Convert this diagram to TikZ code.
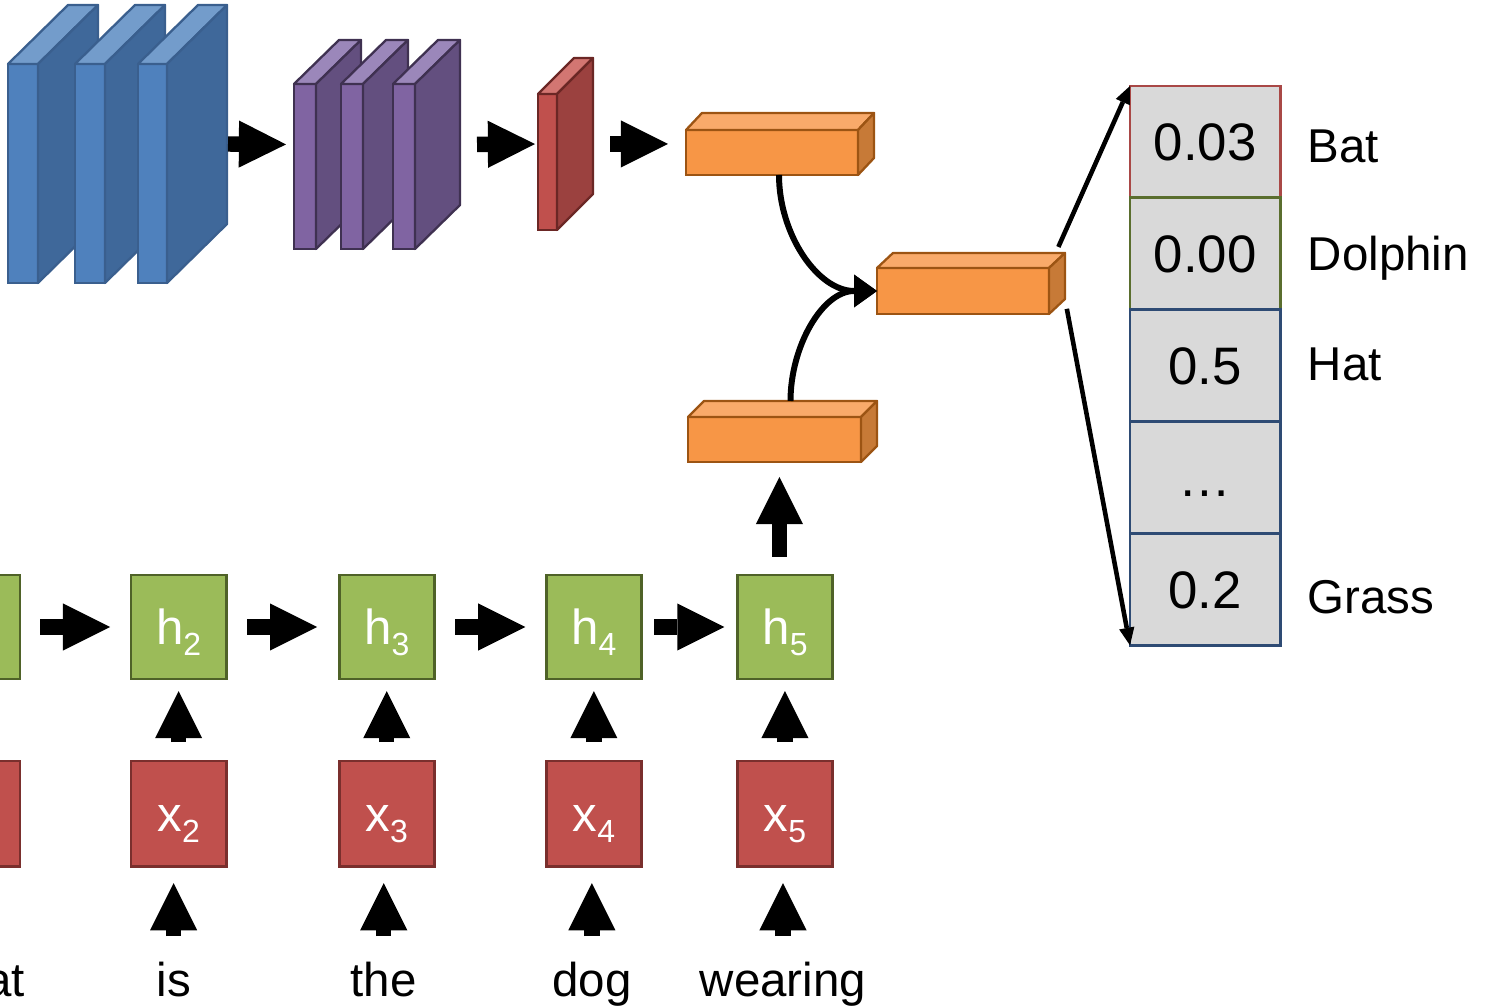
\documentclass[tikz,border=0pt]{standalone}
\usepackage{fontspec}
\setmainfont{Liberation Sans}
\usetikzlibrary{arrows.meta, positioning}

\definecolor{bluFront}{HTML}{4F81BD}
\definecolor{bluSide}{HTML}{3F689A}
\definecolor{bluTop}{HTML}{739CCB}
\definecolor{bluLine}{HTML}{3A5F8E}
\definecolor{purFront}{HTML}{8064A2}
\definecolor{purSide}{HTML}{634F7F}
\definecolor{purTop}{HTML}{9B87BA}
\definecolor{purLine}{HTML}{3F3151}
\definecolor{rddFront}{HTML}{C0504D}
\definecolor{rddSide}{HTML}{9B413F}
\definecolor{rddTop}{HTML}{D37672}
\definecolor{rddLine}{HTML}{6B2725}
\definecolor{orgFront}{HTML}{F79646}
\definecolor{orgSide}{HTML}{C77A37}
\definecolor{orgTop}{HTML}{F9AA6A}
\definecolor{orgLine}{HTML}{9C5413}
\definecolor{hFill}{HTML}{9BBB59}
\definecolor{hLine}{HTML}{4F6228}
\definecolor{xFill}{HTML}{C0504D}
\definecolor{xLine}{HTML}{7A2F2D}
\definecolor{cellgray}{HTML}{D9D9D9}
\definecolor{batLine}{HTML}{A94846}
\definecolor{dolLine}{HTML}{5A6E2E}
\definecolor{restLine}{HTML}{2E4B74}

% subscript set the way the slide tool does it: smaller and dropped
\newcommand{\lowidx}[1]{\raisebox{-3.1pt}{\fontsize{9.1}{10}\selectfont #1}}

% a slab is its front face (a node) plus a top and a side face;
% #1 name, #2/#3 top left of the front, #4 width, #5 height, #6/#7 depth, #8 colour set
\newcommand{\slab}[8]{%
  \node[slabfront=#8, minimum width=#4*0.01cm, minimum height=#5*0.01cm,
        anchor=north west] (#1) at (#2,#3) {};
  \draw[slabedge=#8, fill=#8Top] (#1.north west) -- ++(#6,#7) -- ++(#4,0)
        -- (#1.north east) -- cycle;
  \draw[slabedge=#8, fill=#8Side] (#1.north east) -- ++(#6,#7) -- ++(0,#5)
        -- (#1.south east) -- cycle;
  \coordinate (#1-w) at ([shift={(0,#7/2)}]#1.west);
  \coordinate (#1-e) at ([shift={(#6,#7/2)}]#1.east);
  \coordinate (#1-t) at ([shift={(#6,#7)}]#1.north);
  \coordinate (#1-se) at ([shift={(#6,#7)}]#1.south east);
}

\begin{document}
\begin{tikzpicture}[
  x=0.01cm, y=-0.01cm,
  slabfront/.style={draw=#1Line, fill=#1Front, line width=0.65pt,
                    inner sep=0pt, outer sep=0pt},
  slabedge/.style={draw=#1Line, line width=0.65pt, line join=round},
  fat/.style={line width=4.4pt,
              -{Triangle[length=13.4pt, width=13.4pt, line width=0pt]}},
  curv/.style={line width=1.7pt,
               -{Triangle[length=6.5pt, width=9.3pt, line width=0pt]}},
  thinarr/.style={line width=1.3pt,
                  -{Triangle[length=5pt, width=4.4pt, line width=0pt]}},
  hbox/.style={draw=hLine, fill=hFill, line width=0.8pt, minimum width=0.95cm,
               minimum height=1.04cm, inner sep=0pt, outer sep=0pt, text=white,
               font=\fontsize{14}{16}\selectfont, text height=10pt, text depth=0pt},
  xbox/.style={hbox, draw=xLine, fill=xFill, minimum height=1.05cm},
  word/.style={anchor=base, inner sep=0pt, font=\fontsize{13.5}{16}\selectfont,
               text height=10pt, text depth=0pt},
  prob/.style={draw, fill=cellgray, line width=0.8pt, minimum width=1.5cm,
               minimum height=1.118cm, inner sep=0pt, outer sep=0pt,
               font=\fontsize{15}{18}\selectfont, text height=10.7pt, text depth=0pt},
  lab/.style={inner sep=0pt, font=\fontsize{13.5}{16}\selectfont,
              text height=9.5pt, text depth=0pt}
]
% the slide is cut off on the left, so the first word and boxes run out of it
\path[use as bounding box, clip] (0,0) rectangle (1487,1007);

% image branch
\slab{b1}{8}{64}{30}{219}{60}{-59}{blu}
\slab{b2}{75}{64}{30}{219}{60}{-59}{blu}
\slab{b3}{138}{64}{29}{219}{60}{-59}{blu}
\slab{p1}{294}{84}{22}{165}{45}{-44}{pur}
\slab{p2}{341}{84}{22}{165}{45}{-44}{pur}
\slab{p3}{393}{84}{22}{165}{45}{-44}{pur}
\slab{r1}{538}{94}{19}{136}{36}{-36}{rdd}
\slab{imgvec}{686}{130}{172}{45}{16}{-17}{org}
\slab{joint}{877}{268}{172}{46}{16}{-15}{org}
\slab{qvec}{688}{417}{173}{45}{16}{-16}{org}

\draw[fat, shorten <=0.01cm, shorten >=0.08cm] (b3-e) -- (p1-w);
\draw[fat, shorten <=0.17cm, shorten >=0.03cm] (p3-e) -- (r1-w);
\draw[fat, shorten <=0.17cm, shorten >=0.18cm] (r1-e) -- (imgvec-w);

% question branch; the first column lies almost wholly off the slide
\node[hbox] (h1) at (-27.5,627) {};
\node[hbox, right=1.11cm of h1] (h2) {h\lowidx{2}};
\node[hbox, right=1.13cm of h2] (h3) {h\lowidx{3}};
\node[hbox, right=1.12cm of h3] (h4) {h\lowidx{4}};
\node[hbox, right=0.96cm of h4] (h5) {h\lowidx{5}};
\node[xbox, below=0.82cm of h1] (x1) {};
\node[xbox, below=0.82cm of h2] (x2) {x\lowidx{2}};
\node[xbox, below=0.82cm of h3] (x3) {x\lowidx{3}};
\node[xbox, below=0.82cm of h4] (x4) {x\lowidx{4}};
\node[xbox, below=0.82cm of h5] (x5) {x\lowidx{5}};

\coordinate (base) at (0,997);
\node[word] (w1) at ([xshift=-0.03cm]x1.south |- base) {What};
\node[word] (w2) at ([xshift=-0.05cm]x2.south |- base) {is};
\node[word] (w3) at ([xshift=-0.03cm]x3.south |- base) {the};
\node[word] (w4) at ([xshift=-0.02cm]x4.south |- base) {dog};
\node[word] (w5) at ([xshift=-0.02cm]x5.south |- base) {wearing};

\draw[fat, shorten <=0.25cm, shorten >=0.17cm] (w1) -- (w1 |- x1.south);
\draw[fat, shorten <=0.25cm, shorten >=0.17cm] (w2) -- (w2 |- x2.south);
\draw[fat, shorten <=0.25cm, shorten >=0.17cm] (w3) -- (w3 |- x3.south);
\draw[fat, shorten <=0.25cm, shorten >=0.17cm] (w4) -- (w4 |- x4.south);
\draw[fat, shorten <=0.25cm, shorten >=0.17cm] (w5) -- (w5 |- x5.south);
\draw[fat, shorten <=0.19cm, shorten >=0.12cm] (x1) -- (h1);
\draw[fat, shorten <=0.19cm, shorten >=0.12cm] (x2) -- (h2);
\draw[fat, shorten <=0.19cm, shorten >=0.12cm] (x3) -- (h3);
\draw[fat, shorten <=0.19cm, shorten >=0.12cm] (x4) -- (h4);
\draw[fat, shorten <=0.19cm, shorten >=0.12cm] (x5) -- (h5);
\draw[fat, shorten <=0.2cm, shorten >=0.21cm] (h1) -- (h2);
\draw[fat, shorten <=0.21cm, shorten >=0.22cm] (h2) -- (h3);
\draw[fat, shorten <=0.21cm, shorten >=0.21cm] (h3) -- (h4);
\draw[fat, shorten <=0.13cm, shorten >=0.13cm] (h4) -- (h5);
\draw[fat, shorten <=0.18cm, shorten >=0.15cm]
  ([xshift=-0.055cm]h5.north) -- ([xshift=-0.055cm]h5.north |- qvec.south);

% both features meet in the joint vector
\draw[curv] ([xshift=0.07cm]imgvec.south) to[out=-90, in=180] (joint.west);
\draw[curv] (qvec-t) to[out=90, in=180] (joint.west);

% answer scores
\node[prob, draw=batLine, anchor=north west] (pbat) at (1130,86) {0.03};
\node[prob, draw=dolLine, below=0pt of pbat] (pdol) {0.00};
\node[prob, draw=restLine, below=0pt of pdol] (phat) {0.5};
\node[prob, draw=restLine, below=0pt of phat] (pdots) {…};
\node[prob, draw=restLine, below=0pt of pdots] (pgrass) {0.2};
\node[lab, right=0.27cm of pbat, yshift=-0.04cm] (lbat) {Bat};
\node[lab, right=0.27cm of pdol] (ldol) {Dolphin};
\node[lab, right=0.27cm of phat, yshift=0.02cm] (lhat) {Hat};
\node[lab, right=0.27cm of pgrass, yshift=-0.07cm] (lgrass) {Grass};

\draw[thinarr, shorten <=0.23cm] (joint.north east) -- (pbat.north west);
\draw[thinarr, shorten <=0.1cm] (joint-se) -- (pgrass.south west);
\end{tikzpicture}
\end{document}
